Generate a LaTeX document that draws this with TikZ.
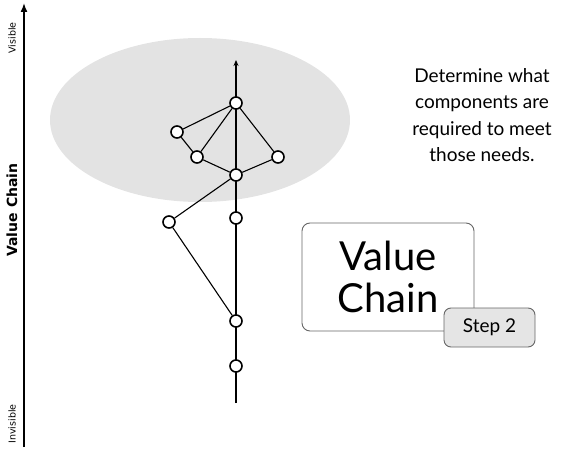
\documentclass[tikz,border=0pt]{standalone}
\usepackage{fontspec}
\setmainfont{Lato}
\newfontfamily\axisfont{DejaVu Sans}
\usetikzlibrary{arrows.meta}
\begin{document}
\begin{tikzpicture}[x=1pt,y=-1pt,
  comp/.style={circle,draw=black,fill=white,line width=1.6pt,minimum size=12pt,inner sep=0pt},
  link/.style={draw=black,line width=1.1pt},
  bigbox/.style={draw=black!60,fill=white,rounded corners=8pt,line width=0.9pt},
  stepbox/.style={draw=black!60,fill=black!10,rounded corners=7pt,line width=0.9pt}]
\useasboundingbox (0,0) rectangle (580,457);
% axis
\coordinate (axb) at (24,447);
\coordinate (axt) at (24,3);
\draw[line width=1.6pt,-{Latex[length=9pt,width=7pt]}] (axb) -- (axt);
\node[rotate=90,font=\axisfont\fontsize{9.5}{10}\selectfont] (vis) at (12,38) {Visible};
\node[rotate=90,font=\axisfont\fontsize{9.5}{10}\selectfont] (invis) at (12,424) {Invisible};
\node[rotate=90,font=\axisfont\bfseries\fontsize{14}{16}\selectfont] (vc) at (12,210) {Value Chain};
% ellipse
\fill[black!11] (200,120) ellipse [x radius=150, y radius=82];
% main vertical line
\coordinate (vb) at (236,403);
\coordinate (vt) at (236,60);
\draw[line width=1.1pt,-{Stealth[length=6pt,width=5pt]}] (vb) -- (vt);
% nodes
\node[comp] (A) at (236,103) {};
\node[comp] (B) at (177,132) {};
\node[comp] (C) at (197,157) {};
\node[comp] (D) at (278,157) {};
\node[comp] (E) at (236,175) {};
\node[comp] (F) at (169,222) {};
\node[comp] (G) at (236,218) {};
\node[comp] (H) at (236,321) {};
\node[comp] (I) at (236,366) {};
\draw[link] (A) -- (B);
\draw[link] (A) -- (C);
\draw[link] (A) -- (D);
\draw[link] (B) -- (C);
\draw[link] (C) -- (E);
\draw[link] (D) -- (E);
\draw[link] (E) -- (F);
\draw[link] (F) -- (H);
% text
\node[align=center,font=\fontsize{19}{26.5}\selectfont] (txt) at (482,115) {Determine what\\components are\\required to meet\\those needs.};
% boxes
\node[bigbox,minimum width=172pt,minimum height=108pt,align=center,font=\fontsize{40}{42}\selectfont] (vcbox) at (388,277) {Value\\Chain};
\node[stepbox,minimum width=91pt,minimum height=39pt,font=\fontsize{19}{22}\selectfont] (step) at (489.5,327.5) {Step 2};
\end{tikzpicture}
\end{document}
